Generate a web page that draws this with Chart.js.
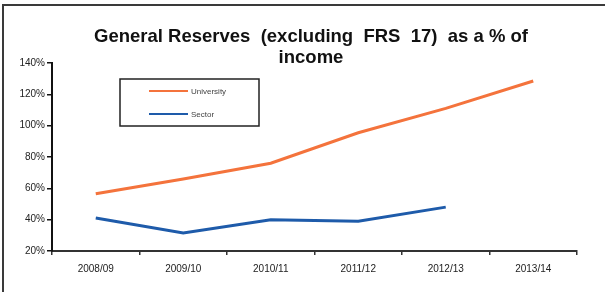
<!DOCTYPE html>
<html>
<head>
<meta charset="utf-8">
<script src="https://cdn.jsdelivr.net/npm/chart.js@4.4.1/dist/chart.umd.min.js"></script>
<style>
  html, body { margin: 0; padding: 0; background: #fff; }
  #wrap { width: 605px; height: 292px; position: relative; }
</style>
</head>
<body>
<div id="wrap"><canvas id="chart"></canvas></div>
<script>
const years = ["2008/09", "2009/10", "2010/11", "2011/12", "2012/13", "2013/14"];
const university = [56.5, 66, 76, 95.5, 111, 128.5];
const sector = [41, 31.5, 40, 39, 48, null];
const yTicks = [20, 40, 60, 80, 100, 120, 140];
const titleLines = ["General Reserves  (excluding  FRS  17)  as a % of", "income"];

const ctx = document.getElementById("chart").getContext("2d");

// frame round the picture (left and top edge only are visible) + title
const framePlugin = {
  id: "frame",
  beforeDraw(chart) {
    const c = chart.ctx;
    c.save();
    c.fillStyle = "#fff";
    c.fillRect(0, 0, chart.width, chart.height);
    c.strokeStyle = "#3a3a3a";
    c.lineWidth = 2;
    c.beginPath();
    c.moveTo(3, chart.height);
    c.lineTo(3, 5);
    c.lineTo(chart.width, 5);
    c.stroke();

    c.fillStyle = "#111";
    c.font = "bold 18.5px 'Liberation Sans', Arial, sans-serif";
    c.textAlign = "center";
    c.textBaseline = "middle";
    titleLines.forEach((t, i) => c.fillText(t, 311, 37 + i * 21));
    c.restore();
  }
};

// boxed legend inside the plot
const boxLegend = {
  id: "boxLegend",
  afterDraw(chart) {
    const c = chart.ctx;
    const x = 120, y = 79, w = 139, h = 47;
    c.save();
    c.strokeStyle = "#222";
    c.lineWidth = 1.5;
    c.strokeRect(x, y, w, h);
    c.font = "8px 'Liberation Sans', Arial, sans-serif";
    c.textBaseline = "middle";
    chart.data.datasets.forEach((ds, i) => {
      const ly = y + 12 + i * 23;
      c.strokeStyle = ds.borderColor;
      c.lineWidth = 2;
      c.beginPath();
      c.moveTo(x + 29, ly);
      c.lineTo(x + 68, ly);
      c.stroke();
      c.fillStyle = "#444";
      c.fillText(ds.label, x + 71, ly + 0.5);
    });
    c.restore();
  }
};

new Chart(ctx, {
  type: "line",
  data: {
    labels: years,
    datasets: [
      {
        label: "University",
        data: university,
        borderColor: "#F4733C",
        borderWidth: 3,
        pointRadius: 0,
        fill: false,
      },
      {
        label: "Sector",
        data: sector,
        borderColor: "#1E5BAA",
        borderWidth: 3,
        pointRadius: 0,
        fill: false,
      },
    ],
  },
  plugins: [framePlugin, boxLegend],
  options: {
    responsive: true,
    maintainAspectRatio: false,
    animation: false,
    layout: { padding: { left: 10, right: 28, top: 63, bottom: 9 } },
    plugins: {
      legend: { display: false },
      tooltip: { enabled: false },
      title: { display: false },
    },
    scales: {
      x: {
        offset: true,
        grid: { display: true, offset: true, drawOnChartArea: false, drawTicks: true, tickLength: 4, color: "#333", lineWidth: 1.5 },
        border: { color: "#333", width: 2 },
        ticks: {
          color: "#222",
          padding: 8,
          font: { family: "'Liberation Sans', Arial, sans-serif", size: 10 },
        },
      },
      y: {
        min: 20,
        max: 140,
        afterBuildTicks(scale) {
          scale.ticks = yTicks.map(v => ({ value: v }));
        },
        afterFit(scale) { scale.width = 42; },
        grid: { display: true, drawOnChartArea: false, drawTicks: true, tickLength: 5, color: "#111", lineWidth: 1.5 },
        border: { color: "#111", width: 2 },
        ticks: {
          color: "#222",
          padding: 2,
          font: { family: "'Liberation Sans', Arial, sans-serif", size: 10 },
          callback: v => v + "%",
        },
      },
    },
  },
});
</script>
</body>
</html>
